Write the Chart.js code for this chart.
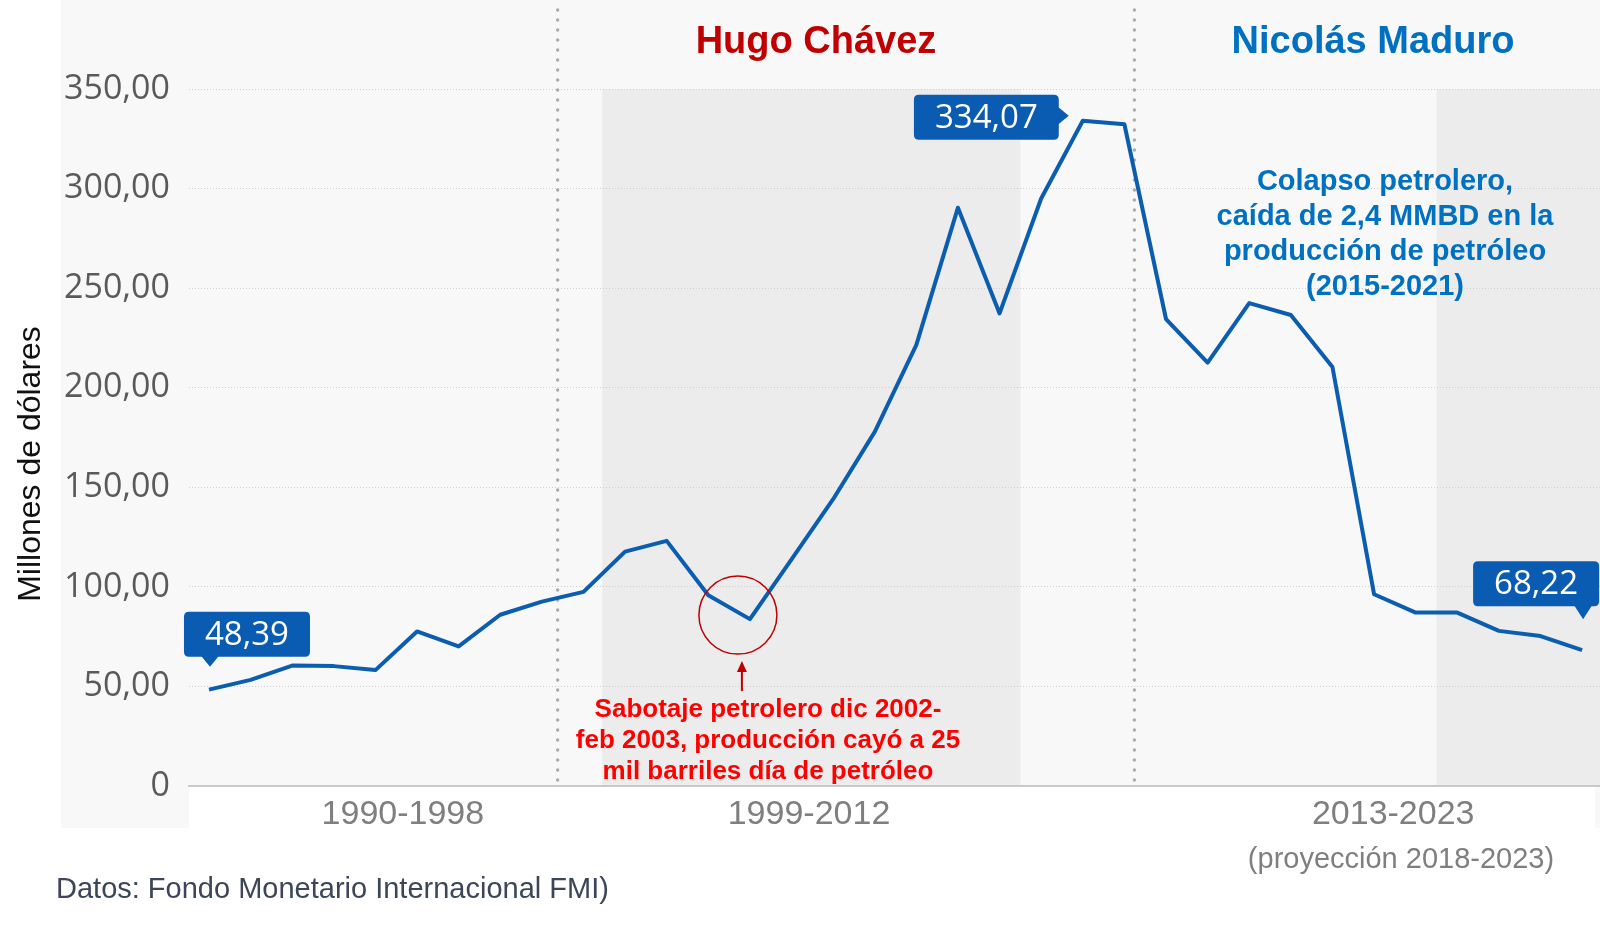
<!DOCTYPE html>
<html lang="es">
<head>
<meta charset="utf-8">
<title>Venezuela - Millones de dólares 1990-2023</title>
<script src="https://cdn.jsdelivr.net/npm/chart.js@4.4.1/dist/chart.umd.min.js"></script>
<style>
  html, body { margin: 0; padding: 0; background: #fff; }
  canvas { display: block; }
</style>
</head>
<body>
<canvas id="grafico" width="1600" height="925"></canvas>
<script>
// Datos
const anos = [1990, 1991, 1992, 1993, 1994, 1995, 1996, 1997, 1998, 1999,
  2000, 2001, 2002, 2003, 2004, 2005, 2006, 2007, 2008, 2009,
  2010, 2011, 2012, 2013, 2014, 2015, 2016, 2017, 2018, 2019,
  2020, 2021, 2022, 2023];
const valores = [48.39, 53.3, 60.5, 60.2, 58.2, 77.6, 70.1, 86.0, 92.6, 97.5,
  117.7, 123.1, 95.8, 83.8, 113.8, 144.0, 177.8, 221.5, 290.4, 237.3,
  295.0, 334.07, 332.3, 234.5, 212.6, 242.5, 236.5, 210.4, 96.3, 87.1,
  87.1, 77.9, 75.3, 68.22];
const etiquetasX = ["1990-1998", "1999-2012", "2013-2023"];
const centrosX = [1994.66, 2004.42, 2018.46]; // año donde se centra cada etiqueta
const ticksY = [0, 50, 100, 150, 200, 250, 300, 350];
const franjas = [[1999.45, 2009.5], [2019.5, 2024]]; // zonas sombreadas
const divisiones = [1998.38, 2012.24]; // cambio de gobierno
const destacados = [0, 21, 33]; // índices con globo de valor

const azul = "#0b5db0";
const fuenteGlobo = "33px 'Open Sans', sans-serif";

function formato(v) {
  return v === 0 ? "0" : v.toFixed(2).replace(".", ",");
}

// Globo con piquito (abajo o a la derecha)
function globo(ctx, texto, izq, arriba, w, h, punta) {
  const r = 5;
  ctx.fillStyle = "#0a5cb3";
  ctx.beginPath();
  ctx.moveTo(izq + r, arriba);
  ctx.lineTo(izq + w - r, arriba);
  ctx.quadraticCurveTo(izq + w, arriba, izq + w, arriba + r);
  ctx.lineTo(izq + w, arriba + h - r);
  ctx.quadraticCurveTo(izq + w, arriba + h, izq + w - r, arriba + h);
  ctx.lineTo(izq + r, arriba + h);
  ctx.quadraticCurveTo(izq, arriba + h, izq, arriba + h - r);
  ctx.lineTo(izq, arriba + r);
  ctx.quadraticCurveTo(izq, arriba, izq + r, arriba);
  ctx.fill();
  ctx.beginPath();
  if (punta.lado === "abajo") {
    ctx.moveTo(punta.x - 9, arriba + h - 1);
    ctx.lineTo(punta.x + 9, arriba + h - 1);
    ctx.lineTo(punta.x, punta.y);
  } else {
    ctx.moveTo(izq + w - 1, punta.y - 9);
    ctx.lineTo(izq + w - 1, punta.y + 9);
    ctx.lineTo(punta.x, punta.y);
  }
  ctx.fill();
  ctx.fillStyle = "#fff";
  ctx.font = fuenteGlobo;
  ctx.textAlign = "center";
  ctx.textBaseline = "middle";
  ctx.fillText(texto, izq + w / 2, arriba + h / 2 + 1);
}

const fondo = {
  id: "fondo",
  beforeDraw(chart) {
    const { ctx, chartArea: a, scales: { x } } = chart;
    ctx.save();
    ctx.fillStyle = "#fff";
    ctx.fillRect(0, 0, chart.width, chart.height);
    ctx.fillStyle = "#f8f8f8";
    ctx.fillRect(61, 0, chart.width - 61, 828);
    ctx.fillStyle = "#fff";
    ctx.fillRect(a.left, a.bottom, 1595 - a.left, 828 - a.bottom);
    ctx.fillStyle = "#ececec";
    franjas.forEach(([ini, fin]) => {
      const x0 = Math.max(x.getPixelForValue(ini), a.left);
      const x1 = Math.min(x.getPixelForValue(fin), a.right);
      ctx.fillRect(x0, a.top, x1 - x0, a.bottom - a.top);
    });
    ctx.restore();
  },
  beforeDatasetsDraw(chart) {
    const { ctx, chartArea: a, scales: { x } } = chart;
    ctx.save();
    ctx.fillStyle = "#a9a9a9";
    divisiones.forEach((v) => {
      const px = x.getPixelForValue(v);
      for (let y = 10; y <= a.bottom - 6; y += 10) {
        ctx.beginPath();
        ctx.arc(px, y, 1.7, 0, Math.PI * 2);
        ctx.fill();
      }
    });
    ctx.restore();
  }
};

const anotaciones = {
  id: "anotaciones",
  afterDraw(chart) {
    const { ctx } = chart;
    const puntos = chart.getDatasetMeta(0).data;
    ctx.save();

    // globos de valores
    ctx.font = fuenteGlobo;
    const anchos = destacados.map((i) => ctx.measureText(formato(valores[i])).width + 42);

    const p0 = puntos[destacados[0]];
    globo(ctx, formato(valores[destacados[0]]), p0.x - 25, p0.y - 78, anchos[0], 45,
      { lado: "abajo", x: p0.x + 1, y: p0.y - 23 });

    const p1 = puntos[destacados[1]];
    globo(ctx, formato(valores[destacados[1]]), p1.x - 24 - anchos[1], p1.y - 26, anchos[1], 45,
      { lado: "derecha", x: p1.x - 14, y: p1.y - 5 });

    const p2 = puntos[destacados[2]];
    globo(ctx, formato(valores[destacados[2]]), p2.x + 17 - anchos[2], p2.y - 89, anchos[2], 45,
      { lado: "abajo", x: p2.x + 1, y: p2.y - 31 });

    // títulos de periodos
    ctx.textAlign = "center";
    ctx.textBaseline = "alphabetic";
    ctx.font = "bold 38px 'Liberation Sans', Arial, sans-serif";
    ctx.fillStyle = "#c00000";
    ctx.fillText("Hugo Chávez", 816, 53);
    ctx.fillStyle = "#0070c0";
    ctx.fillText("Nicolás Maduro", 1373, 53);

    // nota azul
    ctx.textBaseline = "middle";
    ctx.font = "bold 29px 'Liberation Sans', Arial, sans-serif";
    ["Colapso petrolero,", "caída de 2,4 MMBD en la", "producción de petróleo", "(2015-2021)"]
      .forEach((t, i) => ctx.fillText(t, 1385, 182 + i * 35));

    // círculo y flecha del sabotaje (2003)
    const ps = puntos[13];
    ctx.strokeStyle = "#c00000";
    ctx.lineWidth = 1.5;
    ctx.beginPath();
    ctx.arc(ps.x - 12, ps.y - 4, 39, 0, Math.PI * 2);
    ctx.stroke();
    ctx.lineWidth = 2;
    ctx.beginPath();
    ctx.moveTo(ps.x - 8, ps.y + 72);
    ctx.lineTo(ps.x - 8, ps.y + 50);
    ctx.stroke();
    ctx.fillStyle = "#c00000";
    ctx.beginPath();
    ctx.moveTo(ps.x - 13, ps.y + 53);
    ctx.lineTo(ps.x - 3, ps.y + 53);
    ctx.lineTo(ps.x - 8, ps.y + 42);
    ctx.fill();

    ctx.fillStyle = "#ff0000";
    ctx.font = "bold 26px 'Liberation Sans', Arial, sans-serif";
    ["Sabotaje petrolero dic 2002-", "feb 2003, producción cayó a 25", "mil barriles día de petróleo"]
      .forEach((t, i) => ctx.fillText(t, 768, 710 + i * 31));

    // textos de ejes y fuente
    ctx.fillStyle = "#7f7f7f";
    ctx.font = "29px 'Liberation Sans', Arial, sans-serif";
    ctx.fillText("(proyección 2018-2023)", 1401, 860);

    ctx.save();
    ctx.translate(31, 464);
    ctx.rotate(-Math.PI / 2);
    ctx.fillStyle = "#111";
    ctx.font = "32px 'Liberation Sans', Arial, sans-serif";
    ctx.fillText("Millones de dólares", 0, 0);
    ctx.restore();

    ctx.textAlign = "left";
    ctx.fillStyle = "#3b4658";
    ctx.font = "29px 'Liberation Sans', Arial, sans-serif";
    ctx.fillText("Datos: Fondo Monetario Internacional FMI)", 56, 890);

    ctx.restore();
  }
};

new Chart(document.getElementById("grafico"), {
  type: "line",
  data: {
    datasets: [{
      data: anos.map((a, i) => ({ x: a, y: valores[i] })),
      borderColor: azul,
      borderWidth: 4,
      pointRadius: 0,
      tension: 0,
      fill: false,
      borderJoinStyle: "round"
    }]
  },
  options: {
    responsive: false,
    animation: false,
    devicePixelRatio: 1,
    layout: { padding: { top: 89, right: 0, bottom: 97, left: 0 } },
    plugins: { legend: { display: false }, tooltip: { enabled: false } },
    scales: {
      x: {
        type: "linear",
        min: 1989.52,
        max: 2023.43,
        afterFit(s) { s.height = 42; },
        afterBuildTicks(s) { s.ticks = centrosX.map((v) => ({ value: v })); },
        ticks: {
          autoSkip: false,
          maxRotation: 0,
          padding: 8,
          color: "#7f7f7f",
          font: { family: "'Liberation Sans', Arial, sans-serif", size: 34 },
          callback: (v, i) => etiquetasX[i]
        },
        grid: { display: false, drawTicks: false },
        border: { display: true, color: "#c9c9c9", width: 2 }
      },
      y: {
        min: 0,
        max: 350,
        afterFit(s) { s.width = 189; },
        afterBuildTicks(s) { s.ticks = ticksY.map((v) => ({ value: v })); },
        ticks: {
          padding: 19,
          color: "#5a5a5a",
          font: { family: "'Open Sans', sans-serif", size: 34 },
          callback: (v) => formato(v)
        },
        grid: { color: "#cfcfcf", lineWidth: 1, drawTicks: false },
        border: { display: false, dash: [1, 2] }
      }
    }
  },
  plugins: [fondo, anotaciones]
});
</script>
</body>
</html>
